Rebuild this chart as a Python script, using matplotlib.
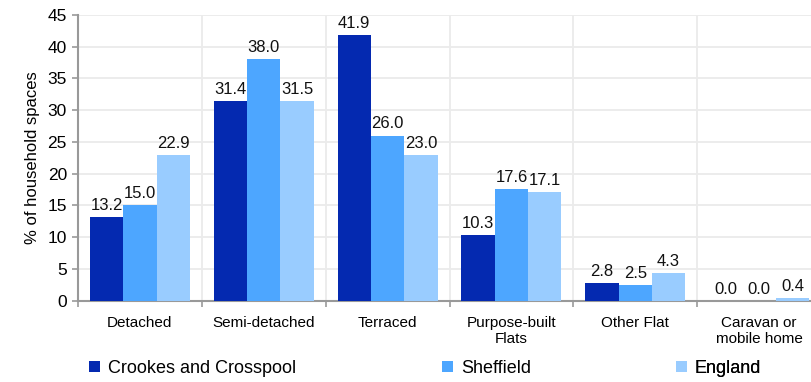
import matplotlib
matplotlib.use("Agg")
import matplotlib.pyplot as plt
import numpy as np

plt.rcParams['font.family'] = ['Liberation Sans', 'DejaVu Sans']

categories = ["Detached", "Semi-detached", "Terraced", "Purpose-built\nFlats", "Other Flat", "Caravan or\nmobile home"]
series_names = ["Crookes and Crosspool", "Sheffield", "England"]
crookes = [13.2, 31.4, 41.9, 10.3, 2.8, 0.0]
sheffield = [15.0, 38.0, 26.0, 17.6, 2.5, 0.0]
england = [22.9, 31.5, 23.0, 17.1, 4.3, 0.4]
colors = ["#0429B0", "#4DA6FF", "#99CCFF"]
yticks = [0, 5, 10, 15, 20, 25, 30, 35, 40, 45]

W, H = 811, 382
fig = plt.figure(figsize=(W / 100, H / 100), dpi=100)
ax = fig.add_axes([78 / W, 1 - 300.7 / H, (821 - 78) / W, (300.7 - 15) / H])

x = np.arange(len(categories))
bw = 0.269
handles = []
for i, (vals, c, name) in enumerate(zip([crookes, sheffield, england], colors, series_names)):
    pos = x + (i - 1) * bw
    b = ax.bar(pos, vals, width=bw, color=c, label=name, zorder=3)
    handles.append(b)
    for xp, v in zip(pos, vals):
        ax.annotate(f"{v:.1f}", (xp, v), xytext=(0, 3), textcoords="offset points",
                    ha="center", va="bottom", fontsize=12, color="#111111")

ax.set_xlim(-0.5, len(categories) - 0.5)
ax.set_ylim(0, 45)
ax.set_yticks(yticks)
ax.set_yticklabels([str(t) for t in yticks], fontsize=12.5)
ax.set_xticks(x)
ax.set_xticklabels(categories, fontsize=11)
ax.set_xticks(np.arange(len(categories) + 1) - 0.5, minor=True)
ax.tick_params(axis='x', which='major', length=0, pad=11)
ax.tick_params(axis='x', which='minor', length=4, color="#999999", width=1.2)
ax.tick_params(axis='y', length=4, color="#999999", width=1.2, pad=4)

ax.grid(True, axis='y', color="#EBEBEB", lw=1.3, zorder=0)
ax.grid(True, axis='x', which='minor', color="#EBEBEB", lw=1.3, zorder=0)
ax.grid(False, axis='x', which='major')
for s in ['top', 'right']:
    ax.spines[s].set_visible(False)
for s in ['left', 'bottom']:
    ax.spines[s].set_color("#999999")
    ax.spines[s].set_linewidth(1.5)

ax.set_ylabel("% of household spaces", fontsize=12, labelpad=5)

legend_x = [89, 442, 676]
for h, name, lx in zip(handles, series_names, legend_x):
    lg = ax.legend([h], [name], loc="upper left", bbox_to_anchor=(lx / W, 1 - 360 / H),
                   bbox_transform=fig.transFigure, frameon=False, fontsize=13,
                   handlelength=0.6, handleheight=0.6, handletextpad=0.45,
                   borderaxespad=0, borderpad=0)
    ax.add_artist(lg)

fig.savefig("out.png", dpi=100)
